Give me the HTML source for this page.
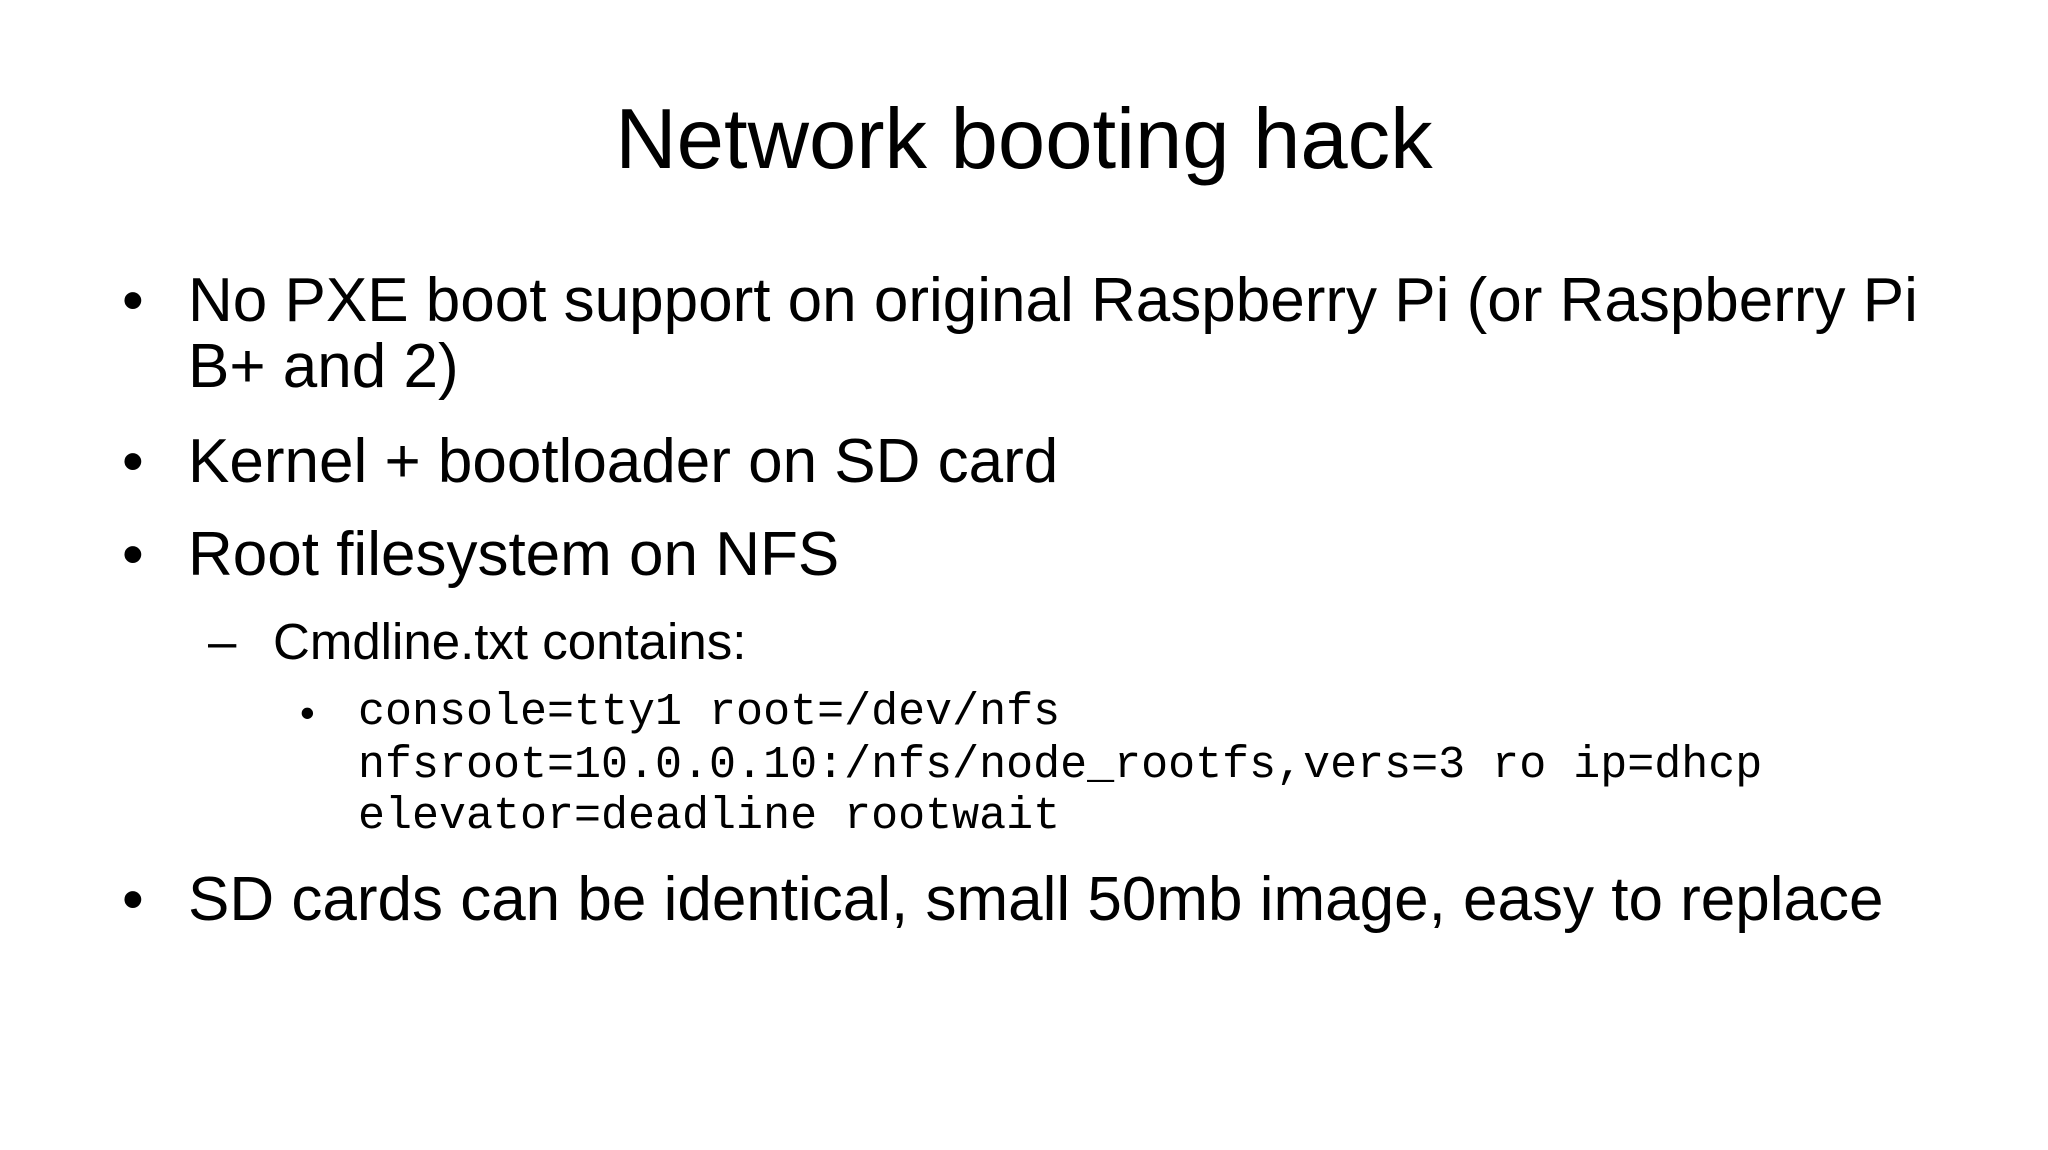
<!DOCTYPE html>
<html><head><meta charset="utf-8"><style>
body{margin:0;width:2048px;height:1150px;background:#fff;position:relative;overflow:hidden;font-family:"Liberation Sans",sans-serif;color:#000}
.t{position:absolute;white-space:nowrap;line-height:1}
</style></head><body>
<div class="t" style="left:0;width:2048px;text-align:center;top:97px;font-size:85px">Network booting hack</div>

<div class="t" style="left:122px;top:270px;font-size:62px">•</div>
<div class="t" style="left:188px;top:270px;font-size:62px">No PXE boot support on original Raspberry Pi (or Raspberry Pi</div>
<div class="t" style="left:188px;top:336px;font-size:62px">B+ and 2)</div>

<div class="t" style="left:122px;top:431px;font-size:62px">•</div>
<div class="t" style="left:188px;top:431px;font-size:62px">Kernel + bootloader on SD card</div>

<div class="t" style="left:122px;top:524px;font-size:62px">•</div>
<div class="t" style="left:188px;top:524px;font-size:62px">Root filesystem on NFS</div>

<div class="t" style="left:208px;top:616px;font-size:51px">–</div>
<div class="t" style="left:273px;top:616px;font-size:51px">Cmdline.txt contains:</div>

<div class="t" style="left:300px;top:692px;font-size:42px">•</div>
<div class="t" style="left:358px;top:690px;font-size:45px;font-family:'Liberation Mono',monospace">console=tty1 root=/dev/nfs</div>
<div class="t" style="left:358px;top:743px;font-size:45px;font-family:'Liberation Mono',monospace">nfsroot=10.0.0.10:/nfs/node_rootfs,vers=3 ro ip=dhcp</div>
<div class="t" style="left:358px;top:794px;font-size:45px;font-family:'Liberation Mono',monospace">elevator=deadline rootwait</div>

<div class="t" style="left:122px;top:869px;font-size:62px">•</div>
<div class="t" style="left:188px;top:869px;font-size:62px">SD cards can be identical, small 50mb image, easy to replace</div>
</body></html>
